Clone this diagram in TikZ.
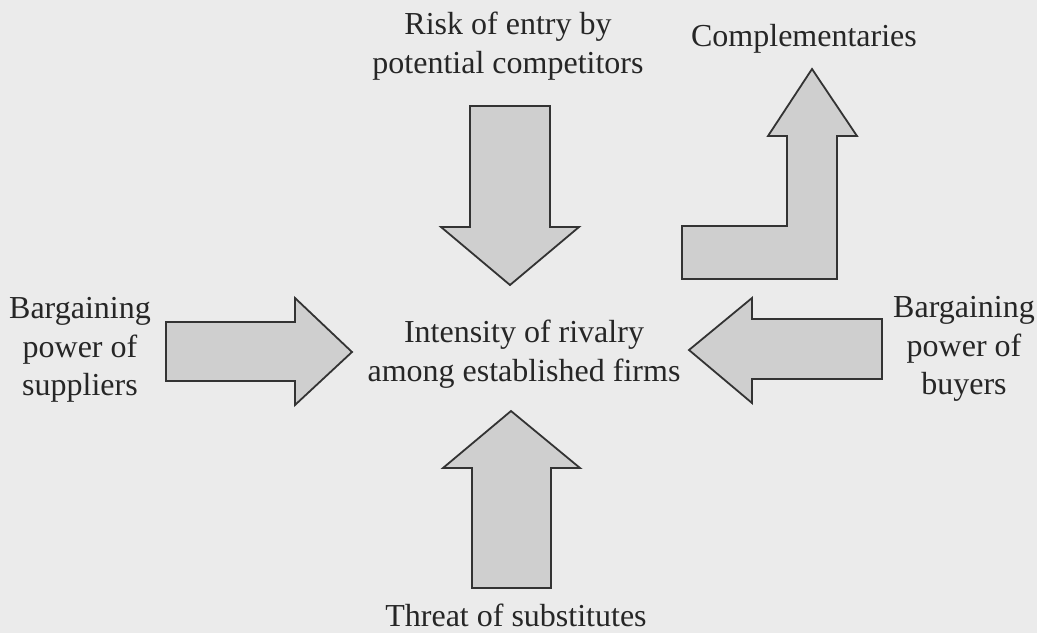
\documentclass[tikz,border=0pt]{standalone}
\usepackage{fontspec}
\setmainfont{Liberation Serif}
\begin{document}
\begin{tikzpicture}[x=1pt,y=-1pt,
  blockarrow/.style={draw=black!80,line width=1.8pt,line join=miter,fill=black!19},
  label/.style={inner sep=0pt,align=center,text=black!85,font=\fontsize{32}{38.5}\selectfont}]
  % paper
  \fill[black!8] (0,0) rectangle (1037,633);
  \useasboundingbox (0,0) rectangle (1037,633);

  % entry arrow (pointing down)
  \draw[blockarrow] (470,106) -- (550,106) -- (550,227) -- (579,227) -- (510,285)
    -- (441,227) -- (470,227) -- cycle;
  % substitutes arrow (pointing up)
  \draw[blockarrow] (472,588) -- (551,588) -- (551,468) -- (580,468) -- (511,411)
    -- (443,468) -- (472,468) -- cycle;
  % suppliers arrow (pointing right)
  \draw[blockarrow] (166,322) -- (295,322) -- (295,298) -- (352,352) -- (295,405)
    -- (295,381) -- (166,381) -- cycle;
  % buyers arrow (pointing left)
  \draw[blockarrow] (882,319) -- (752,319) -- (752,298) -- (689,350) -- (752,403)
    -- (752,379) -- (882,379) -- cycle;
  % complementaries arrow (bent, pointing up)
  \draw[blockarrow] (682,279) -- (682,226) -- (787,226) -- (787,136) -- (768,136)
    -- (812,69) -- (857,136) -- (837,136) -- (837,279) -- cycle;

  % labels
  \node[label] (entry) at (508,46) {Risk of entry by\\potential competitors};
  \node[label,anchor=base] (compl) at (804,46) {Complementaries};
  \node[label] (rivalry) at (524,354) {Intensity of rivalry\\among established firms};
  \node[label] (suppliers) at (80,350) {Bargaining\\power of\\suppliers};
  \node[label] (buyers) at (964,349) {Bargaining\\power of\\buyers};
  \node[label,anchor=base] (subst) at (516,626) {Threat of substitutes};
\end{tikzpicture}
\end{document}
